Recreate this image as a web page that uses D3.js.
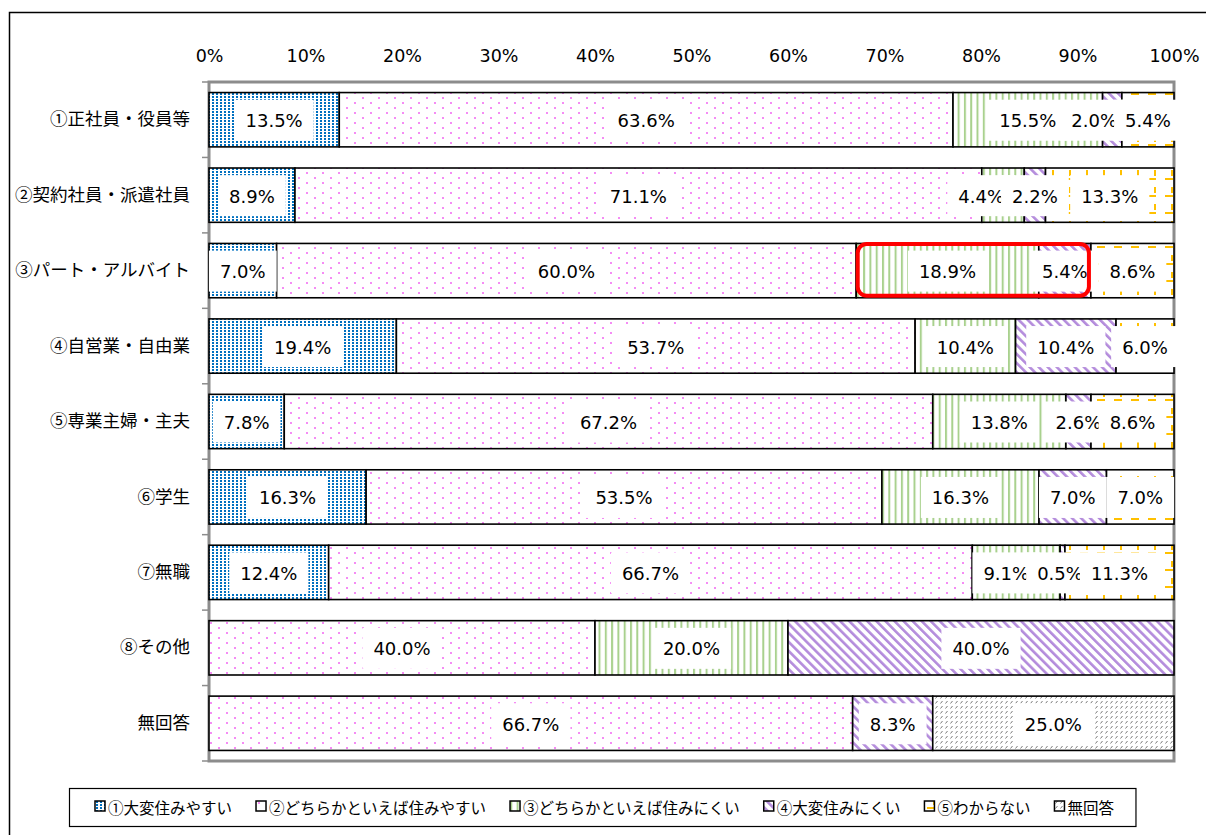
<!DOCTYPE html>
<html>
<head>
<meta charset="utf-8">
<script src="https://cdn.jsdelivr.net/npm/d3@7.9.0/dist/d3.min.js"></script>
<style>
  body { margin: 0; background: #fff; }
  .num { font-family: "DejaVu Sans", Verdana, sans-serif; }
  .jp { font-family: "Noto Sans CJK JP", sans-serif; }
</style>
</head>
<body>
<div id="chart"></div>
<script>
// Chart data (percent per category)
const categories = ["①正社員・役員等", "②契約社員・派遣社員", "③パート・アルバイト", "④自営業・自由業",
  "⑤専業主婦・主夫", "⑥学生", "⑦無職", "⑧その他", "無回答"];
const seriesNames = ["①大変住みやすい", "②どちらかといえば住みやすい", "③どちらかといえば住みにくい",
  "④大変住みにくい", "⑤わからない", "無回答"];
const veryEasy   = [13.5, 8.9, 7.0, 19.4, 7.8, 16.3, 12.4, 0, 0];
const ratherEasy = [63.6, 71.1, 60.0, 53.7, 67.2, 53.5, 66.7, 40.0, 66.7];
const ratherHard = [15.5, 4.4, 18.9, 10.4, 13.8, 16.3, 9.1, 20.0, 0];
const veryHard   = [2.0, 2.2, 5.4, 10.4, 2.6, 7.0, 0.5, 40.0, 8.3];
const dontKnow   = [5.4, 13.3, 8.6, 6.0, 8.6, 7.0, 11.3, 0, 0];
const noAnswer   = [0, 0, 0, 0, 0, 0, 0, 0, 25.0];
const tickValues = [0, 0.1, 0.2, 0.3, 0.4, 0.5, 0.6, 0.7, 0.8, 0.9, 1.0];
const tickLabels = ["0%", "10%", "20%", "30%", "40%", "50%", "60%", "70%", "80%", "90%", "100%"];
// highlighted cell group: row ③, series ③ and ④
const highlightRow = 2;
const highlightSeries = [2, 3];

const seriesValues = [veryEasy, ratherEasy, ratherHard, veryHard, dontKnow, noAnswer];

const W = 1206, H = 835;
const svg = d3.select("#chart").append("svg").attr("width", W).attr("height", H);

// outer frame
svg.append("rect")
  .attr("x", 9.5).attr("y", 12.5).attr("width", 1400).attr("height", 1000)
  .attr("fill", "none").attr("stroke", "#000").attr("stroke-width", 1.5);

// patterns
const defs = svg.append("defs");
function pattern(id, w, h, transform) {
  const p = defs.append("pattern").attr("id", id).attr("patternUnits", "userSpaceOnUse")
    .attr("width", w).attr("height", h);
  if (transform) p.attr("patternTransform", transform);
  p.append("rect").attr("width", w).attr("height", h).attr("fill", "#fff");
  return p;
}
let p = pattern("p0", 4, 3);
p.append("rect").attr("width", 2).attr("height", 2).attr("fill", "#0070C0");
p = pattern("p1", 16, 10);
p.append("rect").attr("x", 2).attr("y", 2).attr("width", 2).attr("height", 2).attr("fill", "#F58CF5");
p.append("rect").attr("x", 10).attr("y", 7).attr("width", 2).attr("height", 2).attr("fill", "#F58CF5");
p = pattern("p2", 6.3, 10);
p.append("rect").attr("x", 0).attr("width", 2).attr("height", 10).attr("fill", "#A9D18E");
p = pattern("p3", 6.4, 10, "rotate(-45)");
p.append("rect").attr("x", 0).attr("width", 2.6).attr("height", 10).attr("fill", "#B48CDC");
p = pattern("p4", 17, 17);
p.append("rect").attr("x", 15).attr("y", 0).attr("width", 2).attr("height", 6).attr("fill", "#FFC000");
p.append("rect").attr("x", 9).attr("y", 8).attr("width", 8).attr("height", 2).attr("fill", "#FFC000");
p = pattern("p5", 5, 5);
p.append("line").attr("x1", 0.5).attr("y1", 3.5).attr("x2", 2.5).attr("y2", 1)
  .attr("stroke", "#7a7a7a").attr("stroke-width", 1);
const fills = seriesNames.map((d, i) => `url(#p${i})`);

// scales
const x0 = 209, x1 = 1174, yTop = 82, yBot = 761;
const x = d3.scaleLinear().domain([0, 1]).range([x0, x1]);
const y = d3.scaleBand().domain(categories).range([yTop, yBot])
  .paddingInner(0.28).paddingOuter(0.14);

// stacked data (normalised to 100%)
const table = categories.map((c, i) => {
  const row = { cat: c };
  seriesNames.forEach((s, j) => { row[s] = seriesValues[j][i]; });
  return row;
});
const stacked = d3.stack().keys(seriesNames).offset(d3.stackOffsetExpand)(table);

// top axis labels
const xAxis = svg.append("g").attr("transform", `translate(0,${yTop})`)
  .call(d3.axisTop(x).tickValues(tickValues).tickFormat((d, i) => tickLabels[i])
    .tickSize(0).tickPadding(20));
xAxis.select(".domain").remove();
xAxis.selectAll("text").attr("class", "num").attr("font-size", 17.5).attr("fill", "#000");

// left axis labels
const yAxis = svg.append("g").attr("transform", `translate(${x0},0)`)
  .call(d3.axisLeft(y).tickSize(0).tickPadding(19));
yAxis.select(".domain").remove();
yAxis.selectAll("text").attr("class", "jp").attr("font-size", 17.5).attr("fill", "#000");

// plot area frame (gray)
const grayAxis = svg.append("g").attr("stroke", "#8c8c8c").attr("stroke-width", 3).attr("fill", "none");
grayAxis.append("path").attr("d", `M${x0},${yTop}H${x1}V${yBot}H${x0}Z`);
// category boundary ticks
const bounds = d3.range(categories.length + 1).map(i => yTop + i * y.step());
grayAxis.selectAll("line.tk").data(bounds).join("line").attr("class", "tk")
  .attr("x1", x0 - 7).attr("x2", x0).attr("y1", d => d).attr("y2", d => d)
  .attr("stroke-width", 1.5);

// bars
const segs = svg.append("g");
stacked.forEach((s, j) => {
  segs.selectAll(null).data(s.filter(d => d[1] - d[0] > 0)).join("rect")
    .attr("x", d => x(d[0])).attr("width", d => x(d[1]) - x(d[0]))
    .attr("y", d => y(d.data.cat)).attr("height", y.bandwidth())
    .attr("fill", fills[j]).attr("stroke", "#000").attr("stroke-width", 1.6);
});

// labels: centred, then pushed left from right to avoid overlaps
const labelG = svg.append("g");
categories.forEach((c, i) => {
  const items = [];
  stacked.forEach((s, j) => {
    const d = s[i];
    if (d[1] - d[0] <= 0) return;
    items.push({ cx: (x(d[0]) + x(d[1])) / 2, text: seriesValues[j][i].toFixed(1) + "%" });
  });
  const g = labelG.append("g");
  items.forEach(it => {
    it.box = g.append("rect").attr("fill", "#fff");
    it.t = g.append("text").attr("class", "num").attr("font-size", 18).attr("text-anchor", "middle")
      .attr("dominant-baseline", "central").text(it.text);
    it.w = it.t.node().getComputedTextLength();
  });
  for (let k = items.length - 1; k >= 0; k--) {
    const it = items[k];
    if (k === items.length - 1) it.cx = Math.min(it.cx, x1 - it.w / 2 - 3);
    else {
      const nxt = items[k + 1];
      const maxCx = nxt.cx - nxt.w / 2 - 8 - it.w / 2;
      it.cx = Math.min(it.cx, maxCx);
    }
  }
  const cy = y(c) + y.bandwidth() / 2;
  items.forEach(it => {
    it.t.attr("x", it.cx).attr("y", cy + 1);
    it.box.attr("x", it.cx - it.w / 2 - 11).attr("width", it.w + 22)
      .attr("y", cy - 20).attr("height", 41);
  });
});

// highlight box
const hr = stacked[highlightSeries[0]][highlightRow];
const hr2 = stacked[highlightSeries[highlightSeries.length - 1]][highlightRow];
svg.append("rect")
  .attr("x", x(hr[0]) + 1.5).attr("y", y(categories[highlightRow]) + 0.5)
  .attr("width", x(hr2[1]) - x(hr[0]) - 3.5).attr("height", y.bandwidth() - 2.5)
  .attr("rx", 9).attr("fill", "none").attr("stroke", "#FF0000").attr("stroke-width", 4);

// legend
const legend = svg.append("g");
const lgBox = legend.append("rect").attr("x", 69.5).attr("y", 788.5).attr("height", 38)
  .attr("fill", "#fff").attr("stroke", "#000").attr("stroke-width", 1.2);
let lx = 95;
seriesNames.forEach((s, j) => {
  legend.append("rect").attr("x", lx).attr("y", 801).attr("width", 10).attr("height", 10)
    .attr("fill", fills[j]).attr("stroke", "#000").attr("stroke-width", 1.5);
  const t = legend.append("text").attr("class", "jp").attr("x", lx + 13).attr("y", 807)
    .attr("font-size", 15.5).attr("dominant-baseline", "central").text(s);
  lx += 13 + t.node().getComputedTextLength() + 24;
});
lgBox.attr("width", lx - 69.5 - 2);
</script>
</body>
</html>
